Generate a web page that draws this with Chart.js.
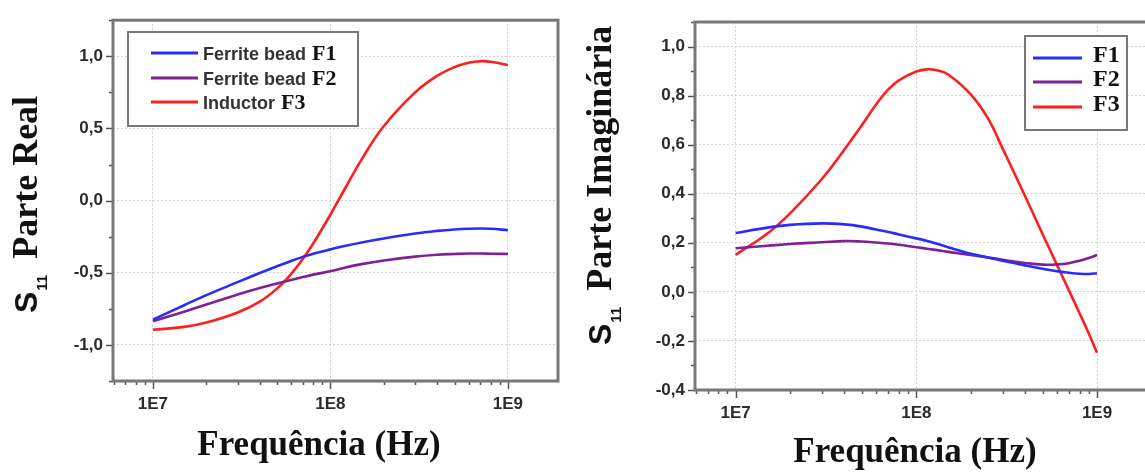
<!DOCTYPE html>
<html>
<head>
<meta charset="utf-8">
<script src="https://cdn.jsdelivr.net/npm/chart.js@4.4.1/dist/chart.umd.min.js"></script>
<style>
  html, body { margin: 0; padding: 0; background: #fff; overflow: hidden; }
  #wrap { position: relative; width: 1145px; height: 474px; overflow: hidden; }
  canvas { position: absolute; top: 0; }
  #realChart { left: 0; }
  #imagChart { left: 575px; }
</style>
</head>
<body>
<div id="wrap">
  <canvas id="realChart" width="575" height="474"></canvas>
  <canvas id="imagChart" width="580" height="474"></canvas>
</div>
<script>
// ---- values ----
const seriesCodes = ['F1', 'F2', 'F3'];
const realLegendNames = ['Ferrite bead', 'Ferrite bead', 'Inductor'];
const xTickLabels = ['1E7', '1E8', '1E9'];

// S11 real part
const realFreq = [1e7, 1.5e7, 2e7, 3e7, 4e7, 5e7, 6e7, 7e7, 8e7, 1e8,
                  1.2e8, 1.5e8, 2e8, 3e8, 4e8, 5e8, 6e8, 7e8, 8e8, 1e9];
const realF1 = [-0.825, -0.725, -0.655, -0.565, -0.502, -0.455, -0.418, -0.39, -0.368, -0.338,
                -0.315, -0.29, -0.262, -0.228, -0.21, -0.2, -0.195, -0.193, -0.195, -0.205];
const realF2 = [-0.835, -0.77, -0.72, -0.65, -0.605, -0.575, -0.55, -0.53, -0.513, -0.49,
                -0.465, -0.44, -0.415, -0.388, -0.375, -0.37, -0.367, -0.367, -0.368, -0.37];
const realF3 = [-0.895, -0.875, -0.845, -0.775, -0.70, -0.61, -0.51, -0.403, -0.297, -0.097,
                0.077, 0.286, 0.517, 0.75, 0.865, 0.925, 0.955, 0.966, 0.962, 0.94];

// S11 imaginary part
const imagFreq = [1e7, 1.5e7, 2e7, 3e7, 4e7, 5e7, 6e7, 7e7, 8e7, 1e8, 1.15e8,
                  1.3e8, 1.5e8, 2e8, 2.5e8, 3e8, 4e8, 5e8, 6e8, 7e8, 8e8, 9e8, 1e9];
const imagF1 = [0.24, 0.262, 0.273, 0.279, 0.275, 0.266, 0.254, 0.244, 0.234, 0.218, 0.207,
                0.196, 0.182, 0.155, 0.14, 0.127, 0.108, 0.094, 0.084, 0.078, 0.074, 0.073, 0.076];
const imagF2 = [0.178, 0.188, 0.195, 0.202, 0.207, 0.205, 0.201, 0.197, 0.192, 0.182, 0.176,
                0.17, 0.163, 0.15, 0.14, 0.131, 0.118, 0.111, 0.112, 0.117, 0.127, 0.138, 0.15];
const imagF3 = [0.151, 0.238, 0.32, 0.46, 0.58, 0.68, 0.765, 0.825, 0.862, 0.898, 0.907,
                0.903, 0.886, 0.805, 0.705, 0.585, 0.39, 0.235, 0.11, 0.005, -0.087, -0.17, -0.248];

// ---- styling ----
const lineColors = ['#2b2bff', '#7e2192', '#ff1e1e'];
const SANS = '"Liberation Sans", Arial, sans-serif';
const SERIF = '"Liberation Serif", "Times New Roman", serif';
const X_MIN = Math.pow(10, 6.775);
const X_MAX = Math.pow(10, 9.282);

function isDecade(v) {
    const l = Math.log10(v);
    return Math.abs(l - Math.round(l)) < 1e-9;
}

// all 1..9 x 10^n positions inside the axis range
function logTickValues() {
    const out = [];
    for (let e = 6; e <= 9; e++) {
        for (let k = 1; k <= 9; k++) {
            const v = k * Math.pow(10, e);
            if (v >= X_MIN && v <= X_MAX) out.push(v);
        }
    }
    return out;
}

function commaLabel(v) {
    if (Math.abs(v) < 1e-9) v = 0;
    return v.toFixed(1).replace('.', ',');
}

// frame, minor/major ticks, axis titles and the boxed legend
const framePlugin = {
    id: 'frame',
    afterDraw(chart, args, o) {
        const ctx = chart.ctx;
        const a = chart.chartArea;
        const xs = chart.scales.x, ys = chart.scales.y;
        ctx.save();

        // tick marks (outward)
        ctx.strokeStyle = '#555';
        ctx.lineWidth = 1.5;
        ctx.beginPath();
        xs.ticks.forEach(t => {
            const px = Math.round(xs.getPixelForValue(t.value)) + 0.5;
            const len = isDecade(t.value) ? 8 : 4;
            ctx.moveTo(px, a.bottom);
            ctx.lineTo(px, a.bottom + len);
        });
        ys.ticks.forEach(t => {
            const py = Math.round(ys.getPixelForValue(t.value)) + 0.5;
            const major = Math.round(t.value / o.yMinor) % 2 === 0;
            const len = major ? 7 : 4;
            ctx.moveTo(a.left, py);
            ctx.lineTo(a.left - len, py);
        });
        ctx.stroke();

        // plot frame
        ctx.strokeStyle = '#787878';
        ctx.lineWidth = 3;
        ctx.strokeRect(a.left, a.top, a.right - a.left, a.bottom - a.top);

        // y title: S11 + serif text, rotated
        ctx.save();
        ctx.translate(o.yTitleBase, o.yTitleBottom);
        ctx.rotate(-Math.PI / 2);
        ctx.fillStyle = '#111';
        ctx.textAlign = 'left';
        ctx.textBaseline = 'alphabetic';
        ctx.font = 'bold 32px ' + SANS;
        ctx.fillText('S', 0, 0);
        let tx = ctx.measureText('S').width + 1;
        ctx.font = 'bold 15px ' + SANS;
        ctx.fillText('11', tx, 10);
        tx += ctx.measureText('11').width + 16;
        ctx.font = 'bold 36px ' + SERIF;
        ctx.fillText(o.yTitle, tx, 0);
        ctx.restore();

        // x title
        ctx.fillStyle = '#111';
        ctx.textAlign = 'center';
        ctx.font = 'bold 35px ' + SERIF;
        ctx.fillText('Frequência (Hz)', o.xTitleX, o.xTitleBase);

        // legend box
        const L = o.legend;
        ctx.fillStyle = '#fff';
        ctx.fillRect(L.box[0], L.box[1], L.box[2], L.box[3]);
        ctx.strokeStyle = '#777';
        ctx.lineWidth = 2;
        ctx.strokeRect(L.box[0], L.box[1], L.box[2], L.box[3]);
        ctx.textAlign = 'left';
        chart.data.datasets.forEach((ds, i) => {
            const y = L.rows[i];
            ctx.strokeStyle = ds.borderColor;
            ctx.lineWidth = 3;
            ctx.beginPath();
            ctx.moveTo(L.line[0], y);
            ctx.lineTo(L.line[1], y);
            ctx.stroke();
            const parts = ds.label.split(' ');
            const code = parts.pop();
            const prefix = parts.join(' ');
            let x = L.textX;
            if (prefix) {
                ctx.font = 'bold 18px ' + SANS;
                ctx.fillStyle = '#333';
                ctx.fillText(prefix, x, y + 6.5);
                x += ctx.measureText(prefix).width + L.gap;
            }
            ctx.font = 'bold ' + L.codeSize + 'px ' + SERIF;
            ctx.fillStyle = '#111';
            ctx.fillText(code, x, y + L.codeOff);
        });
        ctx.restore();
    }
};

function makeChart(id, freq, series, names, cfg) {
    const datasets = series.map((vals, i) => ({
        label: names[i],
        data: freq.map((f, j) => ({ x: f, y: vals[j] })),
        borderColor: lineColors[i],
        borderWidth: 2.6,
        pointRadius: 0,
        fill: false,
        tension: 0.4
    }));
    const gridColor = '#d2d2d2';
    return new Chart(document.getElementById(id), {
        type: 'line',
        data: { datasets },
        plugins: [framePlugin],
        options: {
            responsive: false,
            animation: false,
            devicePixelRatio: 1,
            layout: { padding: { top: cfg.top, right: cfg.right, left: 0, bottom: 0 } },
            plugins: {
                legend: { display: false },
                tooltip: { enabled: false },
                frame: {
                    yMinor: cfg.yStep,
                    yTitle: cfg.yTitle,
                    yTitleBase: cfg.yTitleBase,
                    yTitleBottom: cfg.yTitleBottom,
                    xTitleX: cfg.xTitleX,
                    xTitleBase: cfg.xTitleBase,
                    legend: cfg.legend
                }
            },
            scales: {
                x: {
                    type: 'logarithmic',
                    min: X_MIN,
                    max: X_MAX,
                    afterBuildTicks: s => { s.ticks = logTickValues().map(v => ({ value: v })); },
                    afterFit: s => { s.height = cfg.xAxisH; },
                    border: { display: false, dash: [2, 2] },
                    grid: {
                        drawTicks: false,
                        color: c => (c.tick && isDecade(c.tick.value)) ? gridColor : 'rgba(0,0,0,0)'
                    },
                    ticks: {
                        autoSkip: false,
                        maxRotation: 0,
                        padding: 13,
                        color: '#2b2b2b',
                        font: { family: SANS, size: 17, weight: 'bold' },
                        callback: v => isDecade(v) ? xTickLabels[Math.round(Math.log10(v)) - 7] : ''
                    }
                },
                y: {
                    min: cfg.yMin,
                    max: cfg.yMax,
                    afterFit: s => { s.width = cfg.yAxisW; },
                    border: { display: false, dash: [2, 2] },
                    grid: {
                        drawTicks: false,
                        color: c => (c.tick && Math.round(c.tick.value / cfg.yStep) % 2 === 0) ? gridColor : 'rgba(0,0,0,0)'
                    },
                    ticks: {
                        stepSize: cfg.yStep,
                        padding: 10,
                        color: '#2b2b2b',
                        font: { family: SANS, size: 17, weight: 'bold' },
                        callback: v => Math.round(v / cfg.yStep) % 2 === 0 ? commaLabel(v) : ''
                    }
                }
            }
        }
    });
}

makeChart('realChart', realFreq, [realF1, realF2, realF3],
    realLegendNames.map((n, i) => n + ' ' + seriesCodes[i]), {
        top: 15, right: 17, xAxisH: 93, yAxisW: 113,
        yMin: -1.25, yMax: 1.25, yStep: 0.25,
        yTitle: 'Parte Real', yTitleBase: 37, yTitleBottom: 313,
        xTitleX: 319, xTitleBase: 455,
        legend: { box: [128, 32, 230, 94], line: [151, 198], rows: [53, 78, 102],
                  textX: 203, gap: 6, codeSize: 22, codeOff: 7 }
    });

makeChart('imagChart', imagFreq, [imagF1, imagF2, imagF3], seriesCodes, {
    top: 22, right: 7, xAxisH: 84, yAxisW: 120,
    yMin: -0.4, yMax: 1.1, yStep: 0.1,
    yTitle: 'Parte Imaginária', yTitleBase: 36, yTitleBottom: 345,
    xTitleX: 340, xTitleBase: 462,
    legend: { box: [450, 36, 102, 94], line: [458, 507], rows: [58, 82, 107],
              textX: 518, gap: 0, codeSize: 24, codeOff: 4 }
});
</script>
</body>
</html>
